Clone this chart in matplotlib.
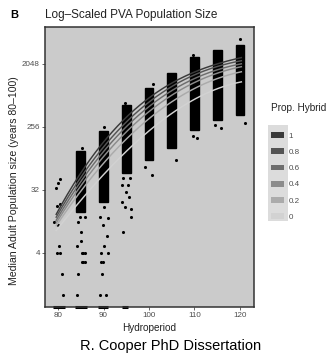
import numpy as np
import matplotlib
matplotlib.use("Agg")
import matplotlib.pyplot as plt
from matplotlib.patches import Patch, Rectangle

plt.rcParams['font.family'] = ['Liberation Sans', 'DejaVu Sans']

# ---------------- data ----------------
# dense columns of simulated runs: hydroperiod, lower and upper edge
core_hydro = [85, 90, 95, 100, 105, 110, 115, 120]
core_low = [15.5, 21.5, 56, 86, 128, 232, 322, 380]
core_high = [116, 225, 530, 928, 1520, 2580, 3250, 3830]

# scattered individual runs (jittered hydroperiod, median adult population)
pt_hydro = [80.4, 80.0, 79.6, 80.4, 79.8, 79.1, 80.0, 80.2, 79.8, 80.4, 80.9, 81.1,
            85.2, 84.8, 85.9, 84.5, 85.1, 85.1, 84.2, 85.2, 85.6, 85.9, 85.3, 85.6, 85.9, 84.3, 84.1,
            90.0, 90.2, 89.2, 91.0, 89.9, 90.8, 90.1, 89.5, 91.0, 89.5, 89.9, 89.7, 89.2, 90.5,
            94.7, 94.3, 95.8, 94.1, 95.4, 94.9, 95.6, 94.1, 94.7, 96.0, 96.0, 94.3,
            100.8, 99.1, 100.6,
            105.9,
            109.7, 109.7, 110.5,
            114.5, 115.8,
            120.0, 121.1]
pt_size = [46, 40, 34, 20, 19, 11, 10, 5, 4, 4, 2, 1,
           128, 13, 13, 11, 8, 6, 5, 4, 4, 4, 3, 3, 3, 2, 1,
           256, 18, 13, 12.5, 10, 7, 5, 4, 4, 3, 3, 2, 1, 1,
           565, 47.5, 47.5, 38, 38, 30, 25, 21.5, 18, 17, 13, 8,
           1060, 69, 52,
           86,
           2760, 190, 178,
           274, 248,
           4680, 292]

# runs with zero adults (log(0) = -Inf, drawn on the bottom edge)
zero_from = [78.9, 83.7, 88.8, 94.0]
zero_to = [81.5, 86.4, 91.0, 95.4]

# smooth fits per proportion hybrid
prop_levels = ['1', '0.8', '0.6', '0.4', '0.2', '0']
fit_hydro = [80, 90, 100, 110, 120]
fit_1 = [16, 156, 666, 1574, 2500]
fit_08 = [14.5, 132, 583, 1430, 2260]
fit_06 = [13.1, 112, 512, 1250, 2048]
fit_04 = [11.9, 95, 434, 1097, 1860]
fit_02 = [10.8, 76, 345, 898, 1574]
fit_0 = [9.1, 52, 232, 626, 1130]
fits = [fit_1, fit_08, fit_06, fit_04, fit_02, fit_0]
level_colors = ['#3a3a3a', '#545454', '#6e6e6e', '#8c8c8c', '#ababab', '#d2d2d2']

y_ticks = [4, 32, 256, 2048]
x_ticks = [80, 90, 100, 110, 120]

# ---------------- figure ----------------
W, H = 326, 354
fig = plt.figure(figsize=(W / 100, H / 100), dpi=100)
fig.patch.set_facecolor('white')
ax = fig.add_axes([45 / W, 1 - 307 / H, (254 - 45) / W, (307 - 27) / H])
ax.set_facecolor('#cbcbcb')
ax.set_yscale('log', base=2)
ylo, yhi = 0.673, 6940
ax.set_ylim(ylo, yhi)
ax.set_xlim(77.14, 123.08)

ax.bar(core_hydro, np.array(core_high) - np.array(core_low), bottom=core_low,
       width=1.9, color='black', edgecolor='black', linewidth=1.0, zorder=2)
ax.scatter(pt_hydro, pt_size, s=5, color='black', linewidths=0, zorder=2)
ax.hlines([ylo] * len(zero_from), zero_from, zero_to, colors='black',
          linewidth=2.2, clip_on=False, zorder=2)

for vals, col in zip(fits, level_colors):
    coef = np.polyfit(fit_hydro, np.log2(vals), 3)
    xs = np.linspace(79.6, 120.3, 200)
    ax.plot(xs, 2 ** np.polyval(coef, xs), color=col, lw=1.05, zorder=3)

ax.set_yticks(y_ticks)
ax.set_yticklabels([str(v) for v in y_ticks])
ax.set_xticks(x_ticks)
ax.set_xticklabels([str(v) for v in x_ticks])
ax.minorticks_off()
ax.tick_params(axis='both', labelsize=5.8, colors='#4d4d4d', length=2.2, width=0.6, pad=1.5)
for s in ax.spines.values():
    s.set_color('#333333')
    s.set_linewidth(1.1)

ax.set_xlabel('Hydroperiod', fontsize=7.2, color='#222222', labelpad=3)
ax.set_ylabel('Median Adult Population size (years 80\u2013100)', fontsize=7.6,
              color='#222222')
ax.yaxis.label.set_va('center')
ax.yaxis.set_label_coords((14 - 45) / 209, (307 - 181) / 280)

fig.text(45 / W, 1 - 15 / H, 'Log\u2013Scaled PVA Population Size', fontsize=8.5,
         va='center', ha='left', color='#222222')
fig.text(10 / W, 1 - 15 / H, 'B', fontsize=8, fontweight='bold', va='center', ha='left')
fig.text(171 / W, 1 - 346 / H, 'R. Cooper PhD Dissertation', fontsize=10.5,
         va='center', ha='center', color='black')

# legend
fig.patches.append(Rectangle((268 / W, 1 - 221 / H), 20 / W, 96 / H,
                             transform=fig.transFigure, facecolor='#dcdcdc',
                             edgecolor='none', zorder=0))
handles = [Patch(facecolor=c, edgecolor='none') for c in level_colors]
leg = fig.legend(handles, prop_levels, loc='upper left',
                 bbox_to_anchor=(265 / W, 1 - 97 / H), frameon=False,
                 title='Prop. Hybrid', title_fontsize=7.2, fontsize=5.8,
                 handlelength=1.6, handleheight=0.75, labelspacing=1.05,
                 handletextpad=0.6, borderpad=0.2, labelcolor='#4d4d4d')
leg._legend_box.align = 'left'
leg._legend_box.sep = 14
leg.get_title().set_color('#222222')

fig.savefig('out.png', dpi=100)
